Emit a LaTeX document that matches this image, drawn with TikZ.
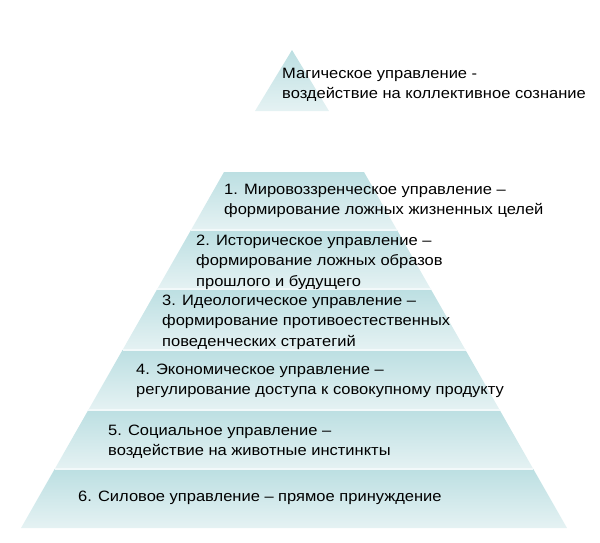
\documentclass[tikz,border=0pt]{standalone}
\usepackage{fontspec}
\setmainfont{Liberation Sans}[FakeStretch=1.1]
\definecolor{tiertop}{HTML}{BCDFE2}
\definecolor{tierbot}{HTML}{E5F2F3}
\definecolor{sepline}{HTML}{F2F9FA}
\begin{document}
\begin{tikzpicture}[x=1pt,y=-1pt,
  tier/.style={top color=tiertop,bottom color=tierbot,draw=none},
  sep/.style={draw=sepline,line width=1.2pt},
  lbl/.style={anchor=west,align=left,inner sep=0pt,font=\fontsize{15}{20.5}\selectfont,text=black}]
\useasboundingbox (0,0) rectangle (600,542);
% small triangle
\shade[tier] (292,50) -- (329,111) -- (255,111) -- cycle;
% tiers
\shade[tier] (224,172) -- (364,172) -- (397,230) -- (191,230) -- cycle;
\shade[tier] (191,230) -- (397,230) -- (430.7,289) -- (157.3,289) -- cycle;
\shade[tier] (157.3,289) -- (430.7,289) -- (465.5,350) -- (122.5,350) -- cycle;
\shade[tier] (122.5,350) -- (465.5,350) -- (499.7,410) -- (88.3,410) -- cycle;
\shade[tier] (88.3,410) -- (499.7,410) -- (533.3,469) -- (54.7,469) -- cycle;
\shade[tier] (54.7,469) -- (533.3,469) -- (567,528) -- (21,528) -- cycle;
% separators
\draw[sep] (191,230) -- (397,230);
\draw[sep] (157.3,289) -- (430.7,289);
\draw[sep] (122.5,350) -- (465.5,350);
\draw[sep] (88.3,410) -- (499.7,410);
\draw[sep] (54.7,469) -- (533.3,469);
% labels
\node[lbl] (m) at (282,85) {Магическое управление -\\воздействие на коллективное сознание};
\node[lbl] (t1) at (224,201) {1. Мировоззренческое управление –\\формирование ложных жизненных целей};
\node[lbl] (t2) at (196,262) {2. Историческое управление –\\формирование ложных образов\\прошлого и будущего};
\node[lbl] (t3) at (162,322) {3. Идеологическое управление –\\формирование противоестественных\\поведенческих стратегий};
\node[lbl] (t4) at (136,381) {4. Экономическое управление –\\регулирование доступа к совокупному продукту};
\node[lbl] (t5) at (108,441.5) {5. Социальное управление –\\воздействие на животные инстинкты};
\node[lbl] (t6) at (78,498) {6. Силовое управление – прямое принуждение};
\end{tikzpicture}
\end{document}
